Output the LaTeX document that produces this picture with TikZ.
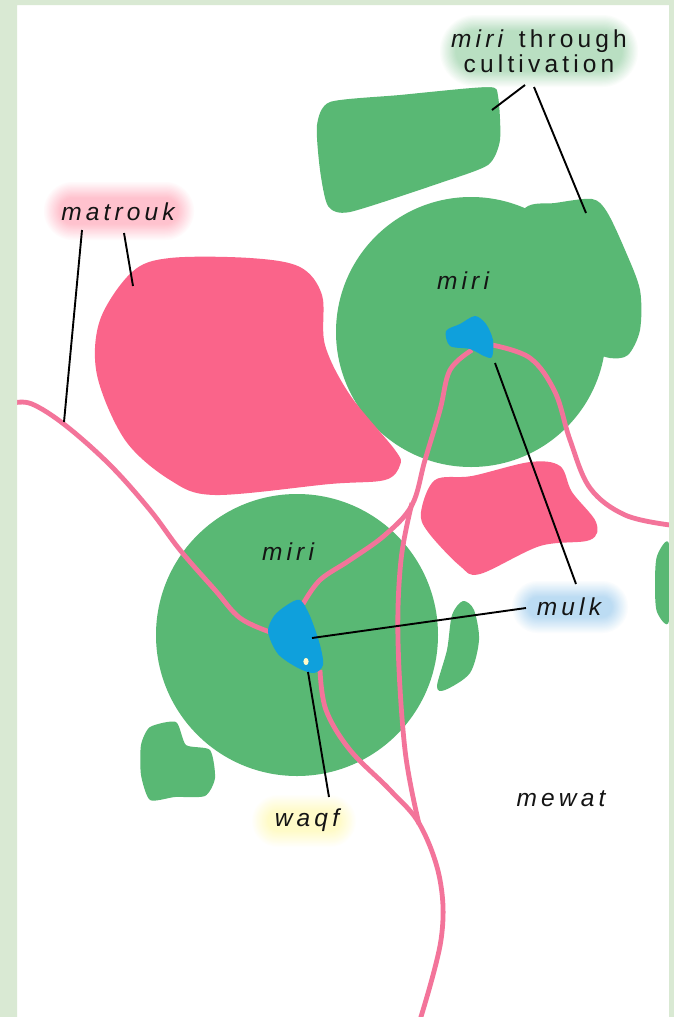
\documentclass[tikz,border=0pt]{standalone}
\usepackage{fontspec}
\setmainfont[LetterSpace=17]{Liberation Sans}
\definecolor{framegreen}{HTML}{D9E9D3}
\definecolor{landgreen}{HTML}{59B874}
\definecolor{landpink}{HTML}{FA648A}
\definecolor{roadpink}{HTML}{F3749A}
\definecolor{mulkblue}{HTML}{0FA0DC}
\definecolor{glowgreen}{HTML}{B9DFC2}
\definecolor{glowpink}{HTML}{FFC2CE}
\definecolor{glowblue}{HTML}{BCDCF3}
\definecolor{glowyellow}{HTML}{FFFBC8}
\tikzset{
  greenland/.style={fill=landgreen},
  pinkland/.style={fill=landpink},
  mulkland/.style={fill=mulkblue},
  road/.style={draw=roadpink,line width=4.8pt,line join=round},
  leader/.style={draw=black,line width=1.9pt},
  lab/.style={inner sep=0pt,font=\fontsize{24.5}{26}\selectfont\itshape,text=black!92},
}
\newcommand{\glowbox}[5]{% cx cy halfw halfh colour
  \foreach \k in {0,...,13}{
    \pgfmathsetmacro{\pc}{min(100,(\k+1)*7.5)}
    \pgfmathsetmacro{\ins}{\k*1.25}
    \pgfmathsetmacro{\rad}{(#4)-\ins}
    \fill[#5!\pc!white,rounded corners=\rad pt]
      ({#1-#3+\ins},{#2-#4+\ins}) rectangle ({#1+#3-\ins},{#2+#4-\ins});
  }
}
\begin{document}
\begin{tikzpicture}[x=1pt,y=-1pt]
\useasboundingbox (0,0) rectangle (673,1017);
\fill[white] (0,0) rectangle (673,1017);
% green land
\fill[greenland] (471,332) circle[radius=135];
\fill[greenland] plot[smooth cycle,tension=.5] coordinates {(500,250)(525,208)(555,203)(592,199)(607,212)(625,250)(640,290)(640,330)(628,355)(610,358)(590,350)(540,320)};
\fill[greenland] (297,635) circle[radius=141];
\fill[greenland] plot[smooth cycle,tension=.4] coordinates {(317,125)(330,102)(400,95)(488,87)(498,96)(500,140)(488,165)(440,183)(350,212)(328,206)(320,170)};
\fill[greenland] plot[smooth cycle,tension=.4] coordinates {(141,745)(150,727)(176,722)(186,745)(210,750)(215,778)(205,796)(175,797)(150,800)(141,775)};
\fill[greenland] plot[smooth cycle,tension=.5] coordinates {(463,601)(474,610)(479,640)(470,673)(445,690)(437,686)(447,650)(452,615)};
\fill[greenland] plot[smooth cycle,tension=.5] coordinates {(669,544)(657,556)(655,585)(657,612)(669,621)};
% pink land
\fill[pinkland] plot[smooth cycle,tension=.55] coordinates {(132,272)(170,258)(250,258)(300,267)(322,295)(325,345)(350,395)(395,450)(400,465)(385,480)(330,484)(215,495)(170,480)(125,440)(97,375)(100,320)};
\fill[pinkland] plot[smooth cycle,tension=.55] coordinates {(421,512)(435,480)(472,476)(530,462)(560,466)(572,492)(596,522)(590,540)(540,546)(480,574)(460,566)(428,532)};
% roads
\draw[road] plot[smooth,tension=.6] coordinates {(14,403)(32,404)(65,425)(110,465)(150,510)(180,550)(215,590)(240,618)(270,632)};
\draw[road] plot[smooth,tension=.6] coordinates {(303,604)(320,580)(350,560)(385,535)(412,505)(425,460)(440,410)(450,370)(472,350)};
\draw[road] plot[smooth,tension=.6] coordinates {(492,345)(530,358)(555,392)(570,440)(590,488)(625,515)(670,525)};
\draw[road] plot[smooth,tension=.6] coordinates {(412,503)(401,560)(398,640)(405,750)(419,824)};
\draw[road] plot[smooth,tension=.6] coordinates {(320,670)(326,710)(350,750)(390,790)(420,825)(440,880)(441,940)(420,1020)};
% frame
\fill[framegreen,even odd rule] (-1,-1) rectangle (675,1019) (17,5) rectangle (669,1020);
% mulk
\fill[mulkland] plot[smooth cycle,tension=.5] coordinates {(446,331)(460,324)(475,316)(486,324)(493,340)(492,357)(484,356)(470,349)(450,346)};
\fill[mulkland] plot[smooth cycle,tension=.5] coordinates {(268,632)(274,616)(287,605)(300,600)(310,616)(320,645)(323,665)(314,673)(298,668)(278,654)};
\fill[glowyellow] (306,661.5) ellipse[x radius=2.6,y radius=3.6];
% glows
\glowbox{539}{51}{99}{36}{glowgreen}
\glowbox{119}{211}{75}{29}{glowpink}
\glowbox{570}{607}{58}{26}{glowblue}
\glowbox{304}{821}{52}{26}{glowyellow}
% labels
\node[lab] (miriA) at (463,281) {miri};
\node[lab] (miriB) at (288,552) {miri};
\node[lab] (mewat) at (561,799) {mewat};
\node[lab] (mulk) at (569,607) {mulk};
\node[lab] (waqf) at (307,820) {waqf};
\node[lab] (matrouk) at (118,212) {matrouk};
\node[lab,align=center,font=\fontsize{24.5}{25}\selectfont] (cult) at (539,51) {\textit{miri} through\\cultivation};
% leaders
\coordinate (cultL) at (525,85);
\coordinate (cultR) at (534,87);
\coordinate (matL) at (82,230);
\coordinate (matR) at (124,233);
\coordinate (mulkA) at (526,608);
\coordinate (mulkB) at (576,584);
\coordinate (waqfT) at (329,797);
\coordinate (fieldA) at (492,110);
\coordinate (fieldB) at (586,213);
\coordinate (roadEnd) at (64,422);
\coordinate (pinkEnd) at (133,286);
\coordinate (blueA) at (312,638);
\coordinate (blueB) at (495,363);
\coordinate (dotEnd) at (308,672);
\draw[leader] (cultL) -- (fieldA);
\draw[leader] (cultR) -- (fieldB);
\draw[leader] (matL) -- (roadEnd);
\draw[leader] (matR) -- (pinkEnd);
\draw[leader] (mulkA) -- (blueA);
\draw[leader] (mulkB) -- (blueB);
\draw[leader] (waqfT) -- (dotEnd);
\end{tikzpicture}
\end{document}
